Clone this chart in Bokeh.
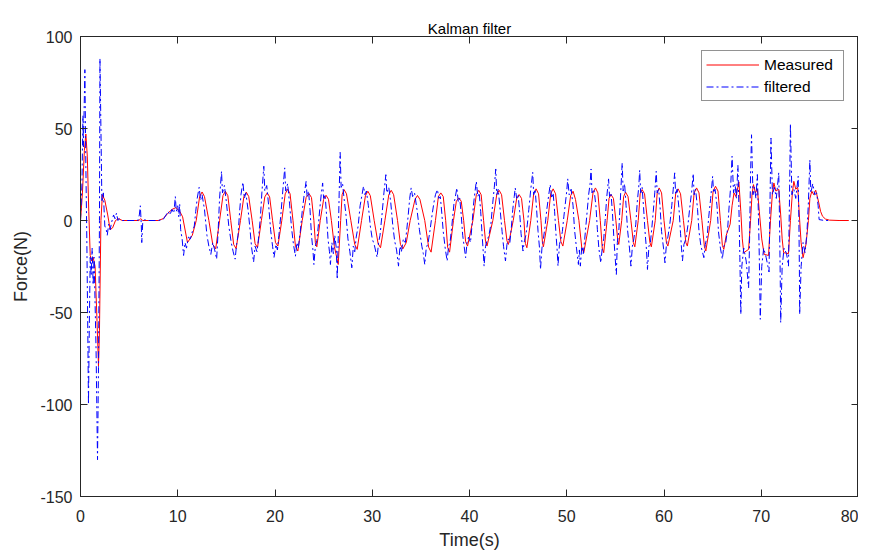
from bokeh.plotting import figure
from bokeh.models import Range1d, LinearAxis, FixedTicker, Legend, LegendItem, Title
from bokeh.embed import file_html
from bokeh.resources import INLINE

x_ticks = [0, 10, 20, 30, 40, 50, 60, 70, 80]
y_ticks = [-150, -100, -50, 0, 50, 100]
y_tick_text = {-150: "-150", -100: "-100", -50: "-50"}

# Measured force (red, solid)
t_meas = [
    0, 0.2, 0.4, 0.55, 0.7, 0.85, 1.0, 1.15, 1.3, 1.5, 1.7, 1.85, 1.95, 2.1, 2.25, 2.5, 2.8, 3.05, 3.3, 3.6, 3.9, 4.3,
    5.0, 6.0, 6.2, 6.4, 7.0, 8.0, 8.5, 9.0, 9.4, 9.8, 10.2, 10.5, 11.0, 11.5, 11.9, 12.25, 12.5, 12.75, 13.2, 13.6, 13.9,
    14.3, 14.65, 14.9, 15.15, 15.45, 15.75, 16.0,
    16.45, 16.8, 17.05, 17.3, 17.65, 17.95, 18.2,
    18.6, 18.95, 19.2, 19.45, 19.75, 20.05, 20.3,
    20.7, 21.05, 21.3, 21.55, 21.85, 22.1, 22.35,
    22.8, 23.2, 23.5, 23.75, 24.0, 24.15, 24.3,
    24.65, 25.0, 25.25, 25.5, 25.8, 26.1, 26.5,
    26.75, 26.9, 27.1, 27.35, 27.8, 28.2, 28.45,
    28.9, 29.3, 29.55, 29.8, 30.2, 30.6, 30.85,
    31.3, 31.7, 31.95, 32.2, 32.6, 32.9, 33.15,
    33.5, 33.9, 34.4, 34.65, 34.9, 35.4, 35.8, 36.05,
    36.5, 36.8, 37.05, 37.3, 37.55, 37.75, 37.95,
    38.35, 38.65, 38.9, 39.15, 39.4, 39.6, 39.8,
    40.35, 40.7, 40.95, 41.2, 41.45, 41.65, 41.8,
    42.4, 42.8, 43.05, 43.3, 43.6, 43.85, 44.0,
    44.5, 44.85, 45.1, 45.35, 45.6, 45.75, 45.9,
    46.3, 46.6, 46.85, 47.1, 47.35, 47.5, 47.6,
    48.05, 48.35, 48.6, 48.85, 49.15, 49.4, 49.6,
    50.05, 50.4, 50.65, 50.9, 51.25, 51.55, 51.75,
    52.35, 52.7, 52.95, 53.2, 53.45, 53.65, 53.8,
    54.15, 54.35, 54.55, 54.8, 55.05, 55.25, 55.35,
    55.65, 55.85, 56.05, 56.3, 56.6, 56.85, 57.0,
    57.35, 57.55, 57.75, 58.0, 58.3, 58.55, 58.7,
    59.1, 59.3, 59.5, 59.75, 60.0, 60.25, 60.4,
    60.95, 61.2, 61.45, 61.7, 62.0, 62.25, 62.4,
    62.85, 63.1, 63.35, 63.6, 63.9, 64.15, 64.3,
    64.8, 65.05, 65.3, 65.55, 65.8, 66.0, 66.15,
    66.4, 66.8, 67.0, 67.2, 67.4, 67.7, 67.9, 68.05, 68.2,
    68.7, 68.9, 69.05, 69.2, 69.4, 69.6, 69.8, 70.05, 70.3,
    70.75, 70.95, 71.15, 71.3, 71.5, 71.8, 72.0, 72.15, 72.3,
    72.8, 73.0, 73.2, 73.35, 73.55, 73.75, 73.95, 74.1, 74.3,
    74.6, 74.85, 75.0, 75.2, 75.4, 75.6, 75.9, 76.1, 76.3, 76.6, 77.0, 78.0, 79.0,
]
f_meas = [
    0, 15, 38, 47, 35, 5, -19, -22, -20, -25, -55, -79, -60, 0, 14, 11, 3, -5, -4, 0, 1, 0,
    0, 0, 1, 0, 0, 0, 1, 4, 6, 7, 5, 2, -12, -8, 0, 13, 15.5, 13, 0, -13, -15.4,
    0, 13.5, 15.9, 13.5, 0, -13, -15.3,
    0, 13, 15.4, 13, 0, -12.5, -14.8,
    0, 12.8, 15, 12.8, 0, -12, -13.9,
    0, 14.5, 17, 14.5, 0, -14, -16.6,
    0, 12.5, 14.6, 12.5, 0, -12, -14.3,
    0, 11.5, 13.7, 11.5, 0, -14, -23.9,
    0, 14, 16.8, 14.5, 0, -13, -15.7,
    0, 13.5, 15.9, 13.5, 0, -12.5, -14.8,
    0, 14, 16.4, 14, 0, -13, -15.4,
    -12, 0, 11.5, 13.6, 11.5, 0, -14.5, -17.2,
    0, 13, 15, 13, 0, -14.5, -17.2,
    0, 10.5, 12.3, 10.5, 0, -11.5, -13.9,
    0, 14, 16.4, 14, 0, -11.5, -13.9,
    0, 14, 16.4, 14, 0, -11, -13,
    0, 12, 14.1, 12, 0, -12.5, -14.8,
    0, 14.5, 17.2, 14.5, 0, -12, -14.3,
    0, 14.5, 17.2, 14.5, 0, -11.5, -13.9,
    0, 13.5, 15.9, 11.4, 0, -15, -17.5,
    0, 15, 17.7, 15, 0, -15, -17.5,
    0, 12, 14.1, 12, 0, -11, -13,
    0, 13, 15.4, 13, 0, -12, -14.3,
    0, 14.5, 16.8, 14.5, 0, -12, -14.3,
    0, 15, 17.7, 15, 0, -12, -13.9,
    0, 14.5, 17.2, 14.5, 0, -12, -13.9,
    0, 15, 17.7, 15, 0, -14, -16.6,
    0, 16, 18.6, 16, 0, -13.5, -15.7,
    -8, -2, 8, 15, 13, 21, 5, -10, -17.5,
    -15.7, 0, 14, 19.5, 15, 17, 5, -10, -18.4,
    -19, 0, 15, 20.4, 16, 17, 3, -10, -17.5,
    -18, 0, 15, 21.3, 17, 18, 0, -12, -20.2,
    -13, 0, 12, 15.9, 14, 16.5, 10, 5, 2.3, 0.8, 0.2, 0, 0,
]

# Kalman-filtered force (blue, dash-dot)
t_filt = [
    0, 0.15, 0.25, 0.3, 0.45, 0.55, 0.65, 0.75, 0.82, 0.9, 1.0, 1.1, 1.2, 1.3, 1.4, 1.5, 1.6, 1.75, 1.85, 1.95, 2.0,
    2.1, 2.2, 2.35, 2.5, 2.65, 2.75, 2.9, 3.05, 3.2, 3.4, 3.55, 3.7, 3.85, 4.0, 4.3, 5.0, 5.9, 6.05, 6.15, 6.25, 6.3,
    6.4, 6.6, 7.0, 8.0, 8.5, 8.8, 9.0, 9.2, 9.4, 9.6, 9.75, 9.85, 10.0, 10.1, 10.2, 10.3, 10.45, 10.6, 10.75, 10.9,
    11.1, 11.3, 11.5, 11.7,
    11.85, 12.0, 12.2, 12.35, 12.5, 12.75, 13.0, 13.2, 13.4, 13.6, 13.8, 14.0, 14.15, 14.3,
    14.5, 14.6, 14.8, 15.0, 15.25, 15.5, 15.7, 15.9, 16.05, 16.2, 16.35, 16.5,
    16.7, 16.85, 17.0, 17.25, 17.45, 17.6, 17.8, 17.95, 18.15, 18.3, 18.5, 18.65,
    18.85, 18.95, 19.15, 19.35, 19.55, 19.75, 19.9, 20.1, 20.25, 20.4, 20.6, 20.8,
    21.0, 21.1, 21.3, 21.5, 21.7, 21.9, 22.1, 22.25, 22.4, 22.6, 22.8, 23.0,
    23.2, 23.3, 23.45, 23.6, 23.75, 23.9, 24.0, 24.15, 24.3, 24.45, 24.6, 24.75,
    24.9, 25.0, 25.15, 25.3, 25.45, 25.6, 25.7, 25.85, 26.0, 26.15, 26.3, 26.4, 26.5, 26.6,
    26.7, 26.8, 26.95, 27.1, 27.3, 27.5, 27.7, 27.9, 28.05, 28.2, 28.35, 28.55, 28.75, 28.95,
    29.1, 29.25, 29.4, 29.6, 29.8, 30.0, 30.2, 30.5, 30.65, 30.8, 31.0, 31.2,
    31.4, 31.5, 31.7, 31.9, 32.1, 32.3, 32.5, 32.7, 32.85, 33.0, 33.2, 33.4, 33.55, 33.7, 33.85,
    34.0, 34.15, 34.35, 34.6, 34.85, 35.1, 35.25, 35.4, 35.55, 35.75, 35.95, 36.15, 36.35, 36.5,
    36.7, 36.85, 37.0, 37.15, 37.3, 37.5, 37.7, 37.85, 38.0, 38.2, 38.4, 38.55,
    38.7, 38.85, 39.0, 39.15, 39.3, 39.45, 39.6, 39.75, 39.9, 40.1, 40.25, 40.4, 40.55,
    40.7, 40.85, 41.0, 41.15, 41.3, 41.4, 41.5, 41.65, 41.8, 42.0, 42.2, 42.4, 42.55,
    42.7, 42.8, 42.95, 43.15, 43.35, 43.5, 43.7, 43.85, 44.0, 44.15, 44.3, 44.45, 44.6,
    44.7, 44.85, 45.0, 45.15, 45.3, 45.4, 45.5, 45.65, 45.8, 45.95, 46.1, 46.3,
    46.5, 46.6, 46.75, 46.9, 47.05, 47.2, 47.3, 47.45, 47.6, 47.75, 47.95, 48.15,
    48.3, 48.45, 48.6, 48.75, 48.9, 49.0, 49.1, 49.25, 49.4, 49.55, 49.7, 49.85, 50.0,
    50.1, 50.25, 50.45, 50.65, 50.8, 51.0, 51.2, 51.3, 51.4, 51.55, 51.7, 51.85, 52.05, 52.25, 52.4,
    52.5, 52.6, 52.8, 53.0, 53.15, 53.3, 53.5, 53.65, 53.8, 53.95, 54.1,
    54.3, 54.4, 54.55, 54.7, 54.85, 54.95, 55.1, 55.2, 55.35, 55.5,
    55.7, 55.8, 55.95, 56.1, 56.25, 56.45, 56.6, 56.75, 56.9, 57.1, 57.25, 57.4,
    57.5, 57.6, 57.75, 57.9, 58.05, 58.2, 58.3, 58.45, 58.6, 58.75, 58.9, 59.05,
    59.2, 59.3, 59.45, 59.6, 59.75, 59.95, 60.1, 60.25, 60.4, 60.6, 60.8, 60.95,
    61.1, 61.2, 61.35, 61.55, 61.7, 61.8, 61.9, 62.05, 62.25, 62.45, 62.65, 62.85,
    63.0, 63.1, 63.25, 63.45, 63.6, 63.8, 63.95, 64.1, 64.25, 64.45, 64.6, 64.8,
    65.0, 65.1, 65.25, 65.45, 65.6, 65.8, 66.0, 66.15, 66.35, 66.55, 66.7, 66.85,
    67.0, 67.15, 67.3, 67.45, 67.6, 67.7, 67.8, 67.9, 68.0, 68.2, 68.45, 68.7, 68.8, 68.9,
    69.0, 69.15, 69.3, 69.45, 69.6, 69.7, 69.8, 69.9, 70.05, 70.25, 70.5, 70.8, 70.9,
    71.0, 71.15, 71.35, 71.55, 71.8, 71.88, 71.95, 72.0, 72.15, 72.35, 72.6, 72.8, 72.9,
    73.0, 73.15, 73.35, 73.55, 73.8, 73.87, 73.92, 73.95, 74.1, 74.3, 74.5, 74.7, 74.85,
    75.0, 75.1, 75.3, 75.5, 75.7, 75.85, 75.95, 76.5, 77.0,
]
f_filt = [
    0, 20, 57, 40, 82, 30, -10, -60, -100, -60, -20, -30, -15, -35, -20, -45, -70, -130, -80, 0, 88,
    50, 10, 15, -3, -5, -8, -2, -5, -1, 3, 1, 4, 0, 1, 0, 0, 0, 3, 8, -2, -12,
    -1, 0.5, 0, 0, 0.5, 3, 5, 3, 6, 4, 13, 5, 8, 2, 9, -5, -10, -19, -12, -15,
    -9, -10, -6, -3,
    5, 12, 18, 11, 14, 6, -8, -14, -18.4, -12, -16, -21, -6, 12,
    26.7, 15, 19, 10, -3, -12, -17, -21, -13, -8, 4, 14,
    20.8, 12, 15, 5, -6, -15, -22.6, -14, -17, -10, 2, 15,
    29.5, 16, 19, 8, -5, -14, -20, -13, -16, -8, 3, 16,
    28.6, 16, 20, 9, -4, -13, -19.4, -12, -15, -6, 5, 14,
    21.3, 13, 16, 6, -8, -16, -23.9, -14, -11, -3, 6, 14,
    20.4, 12, 14, 3, -10, -17, -23.9, -12, -18, -8, -15, -32, -10, 15,
    37, 18, 20, 12, 3, -10, -17, -25.7, -14, -17, -9, -3, 8, 14,
    18.6, 14, 16, 8, -3, -10, -13, -20, -12, -8, 3, 15,
    24.9, 15, 18, 10, -2, -11, -16, -24.8, -14, -17, -10, -12, -5, 3, 12,
    17.7, 13, 15, 6, -5, -14, -18, -23.9, -15, -12, -5, 3, 10, 14,
    16.8, 12, 13, 4, -6, -15, -22, -14, -12, -2, 9, 13,
    17.7, 10, 12, 3, -8, -14, -20.2, -12, -9, -12, -3, 8, 15,
    21.3, 13, 15, 5, -8, -16, -24.8, -14, -11, -8, -2, 10, 18,
    28, 14, 17, 6, -6, -14, -22, -13, -10, -12, -4, 6, 13,
    17.7, 12, 14, 5, -7, -12, -16.6, -11, -8, -2, 6, 17,
    26.2, 14, 17, 6, -6, -15, -26.6, -15, -10, -4, 6, 14,
    19.5, 12, 15, 5, -8, -15, -24.8, -13, -10, -6, 2, 9, 16,
    22.6, 14, 17, 8, -5, -15, -23.9, -16, -24.8, -14, -18, -10, 2, 14, 20,
    28, 15, 17, 8, -5, -15, -23, -15, -10, 0, 12,
    22.6, 13, 15, 4, -10, -18, -29.3, -12, -6, 10,
    31.3, 16, 20, 8, -5, -15, -24.8, -14, -10, -2, 10, 18,
    27.3, 15, 18, 7, -6, -16, -26.6, -14, -12, -4, 5, 15,
    26.7, 15, 17, 7, -6, -15, -23, -13, -9, -2, 8, 17,
    25.9, 14, 17, 6, -7, -15, -22, -13, -10, -3, 7, 16,
    25.5, 14, 17, 6, -6, -14, -17, -20.2, -13, -8, 2, 12,
    24, 15, 17, 8, -6, -15, -21, -14, -12, -4, 8, 18,
    34.9, 15, 20, 12, 30, 8, -20, -51, -25, -15, -22, -36.5, -10, 25,
    46.6, 14, 18, 12, 25, 5, -20, -53.7, -25, -15, -20, -28, 10,
    44.8, 14, 18, 12, 26, 0, -30, -55.5, -25, -15, -18, -24.8, 10,
    52.6, 14, 17, 12, 24, 0, -25, -51, -25, -12, -17.5, -6.7, 10,
    33, 15, 20, 14, 15, 8, 0.5, 0, 0,
]

assert len(t_meas) == len(f_meas), (len(t_meas), len(f_meas))
assert len(t_filt) == len(f_filt), (len(t_filt), len(f_filt))

AX = "#262626"
FONT = "Liberation Sans"

p = figure(frame_width=778, frame_height=460, output_backend="svg", toolbar_location=None,
           x_range=Range1d(0, 80), y_range=Range1d(-150, 100),
           min_border_left=0, min_border_right=0, min_border_top=0, min_border_bottom=0,
           background_fill_color="white", border_fill_color="white")

p.xgrid.visible = False
p.ygrid.visible = False
p.outline_line_color = AX
p.outline_line_width = 1

for ax, ticks in ((p.xaxis[0], x_ticks), (p.yaxis[0], y_ticks)):
    ax.ticker = FixedTicker(ticks=ticks)
    ax.major_tick_in = 7
    ax.major_tick_out = 0
    ax.minor_tick_in = 0
    ax.minor_tick_out = 0
    ax.axis_line_color = AX
    ax.major_tick_line_color = AX
    ax.major_label_text_font = FONT
    ax.major_label_text_font_size = "16px"
    ax.major_label_text_color = AX
    ax.axis_label_text_font = FONT
    ax.axis_label_text_font_size = "18px"
    ax.axis_label_text_font_style = "normal"
    ax.axis_label_text_color = AX

p.xaxis.axis_label = "Time(s)"
p.yaxis.axis_label = "Force(N)"
p.yaxis.major_label_overrides = y_tick_text
p.xaxis.major_label_standoff = 13
p.xaxis.axis_label_standoff = 5
p.yaxis.major_label_standoff = 8
p.yaxis.axis_label_standoff = 6

for loc, ticks in (("above", x_ticks), ("right", y_ticks)):
    a = LinearAxis(ticker=FixedTicker(ticks=ticks), major_label_text_font_size="1px",
                   major_label_text_alpha=0, major_label_standoff=0,
                   major_tick_in=7, major_tick_out=0, minor_tick_in=0, minor_tick_out=0,
                   axis_line_color=AX, major_tick_line_color=AX)
    p.add_layout(a, loc)

# title just above the frame, with an empty spacer above it
p.add_layout(Title(text="Kalman filter", align="center", text_font=FONT, text_font_size="15px",
                   text_font_style="normal", text_color="#000000", standoff=0), "above")
p.add_layout(Title(text=" ", text_font=FONT, text_font_size="10px", standoff=4), "above")
# small spacer on the far left
p.add_layout(Title(text=" ", text_font_size="5px", standoff=0), "left")

r_meas = p.line(t_meas, f_meas, line_color="#ff0000", line_width=1)
r_filt = p.line(t_filt, f_filt, line_color="#0000ff", line_width=1, line_dash="7 3 2 3")

legend = Legend(items=[LegendItem(label="Measured", renderers=[r_meas]),
                       LegendItem(label="filtered", renderers=[r_filt])],
                location="top_right", margin=14, padding=4, spacing=3,
                glyph_width=53, glyph_height=19, label_height=19, label_width=75,
                label_standoff=5, label_text_font=FONT, label_text_font_size="15.5px",
                label_text_color="#000000", border_line_color=AX, border_line_width=1,
                background_fill_color="white", background_fill_alpha=1)
p.add_layout(legend)

open("out.html", "w").write(file_html(p, INLINE))
